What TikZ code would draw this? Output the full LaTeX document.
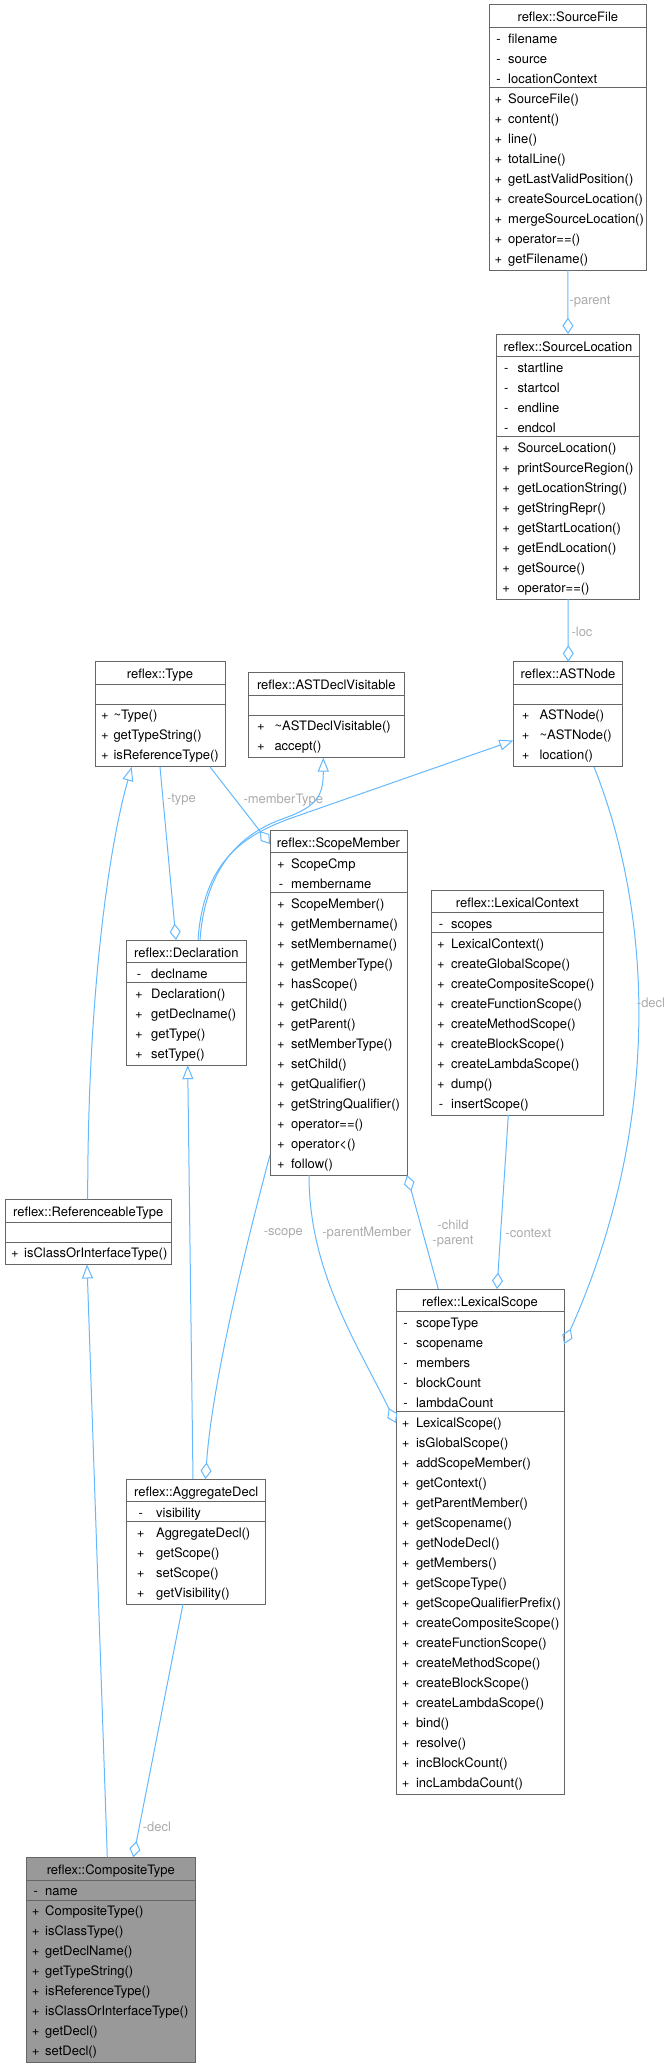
\documentclass[tikz,border=0pt]{standalone}
\usepackage{fontspec}
\setmainfont{TeX Gyre Heros}
\usetikzlibrary{arrows.meta,calc}
\definecolor{edgeblue}{HTML}{63B8FF}
\definecolor{boxgray}{HTML}{666666}
\definecolor{lblgray}{HTML}{ABABAB}
\definecolor{compfill}{HTML}{999999}
\tikzset{
  cbox/.style={draw=boxgray, line width=1pt, inner sep=0pt, outer sep=0pt, rectangle},
  cline/.style={draw=boxgray, line width=1pt},
  ctitle/.style={anchor=base, inner sep=0pt, font=\fontsize{13}{15}\selectfont},
  crow/.style={anchor=base west, inner sep=0pt, font=\fontsize{13}{15}\selectfont},
  csym/.style={anchor=base, inner sep=0pt, font=\fontsize{13}{15}\selectfont},
  lbl/.style={inner sep=0pt, text=lblgray, font=\fontsize{13}{15}\selectfont, align=center},
  conn/.style={draw=edgeblue, line width=1pt},
  inherit/.style={conn, -{Triangle[open, length=14pt, width=11pt]}},
  assoc/.style={conn, -{Diamond[open, length=16.5pt, width=11pt]}},
}
% #1 fill, #2 name, #3 top-left, #4 width, #5 symbol offset, #6 text offset, #7 title, #8 attributes, #9 methods
\newcommand{\uclass}[9][white]{%
  \foreach \usym/\utxt [count=\k] in {#8} {\xdef\una{\k}}%
  \foreach \usym/\utxt [count=\k] in {#9} {\xdef\unm{\k}}%
  \pgfmathsetmacro\uh{22.7+\una*20+\unm*20+2.5}%
  \node[cbox, fill=#1, minimum width=#4pt, minimum height=\uh pt, anchor=north west] (#2) at (#3) {};%
  \node[ctitle] (#2-title) at ([yshift=-17pt]#2.north) {#7};%
  \draw[cline] ([yshift=-22.7pt]#2.north west) -- ([yshift=-22.7pt]#2.north east);%
  \pgfmathsetmacro\usep{-(22.7+\una*20)}%
  \draw[cline] ([yshift=\usep pt]#2.north west) -- ([yshift=\usep pt]#2.north east);%
  \foreach \usym/\utxt [count=\k] in {#8} {%
    \pgfmathsetmacro\ury{-(22.7+(\k-0.5)*20+5.5)}%
    \node[csym] (#2-as\k) at ([xshift=#5pt, yshift=\ury pt]#2.north west) {\usym};%
    \node[crow] (#2-a\k) at ([xshift=#6pt, yshift=\ury pt]#2.north west) {\utxt};%
  }%
  \foreach \usym/\utxt [count=\k] in {#9} {%
    \pgfmathsetmacro\ury{-(22.7+\una*20+(\k-0.5)*20+5.5)}%
    \node[csym] (#2-ms\k) at ([xshift=#5pt, yshift=\ury pt]#2.north west) {\usym};%
    \node[crow] (#2-m\k) at ([xshift=#6pt, yshift=\ury pt]#2.north west) {\utxt};%
  }%
}
\begin{document}
\begin{tikzpicture}[x=1pt, y=-1pt]
\useasboundingbox (0,0) rectangle (669,2068);

\uclass{sf}{489,5}{157.7}{9.5}{19}{reflex::SourceFile}{-/filename,-/source,-/locationContext}{+/SourceFile(),+/content(),+/line(),+/totalLine(),+/getLastValidPosition(),+/createSourceLocation(),+/mergeSourceLocation(),+/operator==(),+/getFilename()}

\uclass{sl}{496.7,334}{142.6}{9.5}{20.6}{reflex::SourceLocation}{-/startline,-/startcol,-/endline,-/endcol}{+/SourceLocation(),+/printSourceRegion(),+/getLocationString(),+/getStringRepr(),+/getStartLocation(),+/getEndLocation(),+/getSource(),+/operator==()}

\uclass{type}{95,661.7}{130}{10}{18.3}{reflex::Type}{/}{+/\textasciitilde Type(),+/getTypeString(),+/isReferenceType()}

\uclass{astdv}{248.3,672.3}{156}{12.7}{26}{reflex::ASTDeclVisitable}{/}{+/\textasciitilde ASTDeclVisitable(),+/accept()}

\uclass{astn}{513.3,661.7}{109.4}{12.3}{26}{reflex::ASTNode}{/}{+/ASTNode(),+/\textasciitilde ASTNode(),+/location()}

\uclass{sm}{270,830}{137}{11}{21}{reflex::ScopeMember}{+/ScopeCmp,-/membername}{+/ScopeMember(),+/getMembername(),+/setMembername(),+/getMemberType(),+/hasScope(),+/getChild(),+/getParent(),+/setMemberType(),+/setChild(),+/getQualifier(),+/getStringQualifier(),+/operator==(),+/operator<(),+/follow()}

\uclass{decl}{126.7,940}{119.3}{12.3}{24.3}{reflex::Declaration}{-/declname}{+/Declaration(),+/getDeclname(),+/getType(),+/setType()}

\uclass{lc}{431.7,890}{171.3}{9.3}{19.3}{reflex::LexicalContext}{-/scopes}{+/LexicalContext(),+/createGlobalScope(),+/createCompositeScope(),+/createFunctionScope(),+/createMethodScope(),+/createBlockScope(),+/createLambdaScope(),+/dump(),-/insertScope()}

\uclass{rt}{5,1199.3}{166.5}{10}{19}{reflex::ReferenceableType}{/}{+/isClassOrInterfaceType()}

\uclass{ad}{126.7,1479}{139}{14}{29.3}{reflex::AggregateDecl}{-/visibility}{+/AggregateDecl(),+/getScope(),+/setScope(),+/getVisibility()}

\uclass{ls}{396,1289}{168}{9.6}{19.8}{reflex::LexicalScope}{-/scopeType,-/scopename,-/members,-/blockCount,-/lambdaCount}{+/LexicalScope(),+/isGlobalScope(),+/addScopeMember(),+/getContext(),+/getParentMember(),+/getScopename(),+/getNodeDecl(),+/getMembers(),+/getScopeType(),+/getScopeQualifierPrefix(),+/createCompositeScope(),+/createFunctionScope(),+/createMethodScope(),+/createBlockScope(),+/createLambdaScope(),+/bind(),+/resolve(),+/incBlockCount(),+/incLambdaCount()}

\uclass[compfill]{ct}{26.7,1857.3}{168.3}{9}{18.3}{reflex::CompositeType}{-/name}{+/CompositeType(),+/isClassType(),+/getDeclName(),+/getTypeString(),+/isReferenceType(),+/isClassOrInterfaceType(),+/getDecl(),+/setDecl()}

% connectors
\draw[assoc] ([xshift=78.8pt]sf.south west) -- ([xshift=71.3pt]sl.north west);
\node[lbl] (l-parent) at (590,302) {-parent};

\draw[assoc] ([xshift=71.3pt]sl.south west) -- ([xshift=55pt]astn.north west);
\node[lbl] (l-loc) at (582,632) {-loc};

\draw[inherit] ([xshift=82.7pt]rt.north west) .. controls +(-0.2,-199.3) and +(-23.7,83.1) .. ([xshift=36.7pt]type.south west);

\draw[assoc] ([xshift=65pt]type.south west) -- ([xshift=49.3pt]decl.north west);
\node[lbl] (l-type) at (181.5,800) {-type};

\draw[assoc] ([xshift=115pt]type.south west) -- ([yshift=-14pt]sm.north west);
\node[lbl] (l-memberType) at (283.3,800) {-memberType};

\draw[inherit] ([xshift=73.3pt]decl.north west) .. controls +(6,-82) and +(-35,12) .. ++(85,-122) .. controls +(33,-12) and +(0,37.5) .. ([xshift=75pt]astdv.south west);

\draw[inherit] ([xshift=71.3pt]decl.north west) .. controls +(6,-85) and +(-50,17) .. ++(102,-125) -- ([yshift=-78.8pt]astn.north west);

\draw[inherit] ([xshift=66.3pt]ad.north west) -- ([xshift=61pt]decl.south west);

\draw[inherit] ([xshift=80.6pt]ct.north west) -- ([xshift=82pt]rt.south west);

\draw[assoc] ([xshift=56.3pt]ad.south west) -- ([xshift=106.6pt]ct.north west);
\node[lbl] (l-decl2) at (157,1827) {-decl};

\draw[assoc] ([yshift=-325pt]sm.north west) .. controls +(-20,75) and +(6.5,-99) .. ([xshift=78.8pt]ad.north west);
\node[lbl] (l-scope) at (283.3,1233) {-scope};

\draw[assoc] ([xshift=39pt]sm.south west) .. controls +(0,95) and +(-41,-83) .. ([yshift=-134pt]ls.north west);
\node[lbl] (l-parentMember) at (366.7,1233) {-parentMember};

\draw[assoc] ([xshift=42.3pt]ls.north west) -- (sm.south east);
\node[lbl] (l-childparent) at (453,1233.5) {-child\\-parent};

\draw[assoc] ([xshift=76.6pt]lc.south west) -- ([xshift=101pt]ls.north west);
\node[lbl] (l-context) at (528.3,1233) {-context};

\draw[assoc] ([xshift=80.7pt]astn.south west) .. controls +(61,153) and +(96,-214) .. ([yshift=-55pt]ls.north east);
\node[lbl] (l-decl1) at (651,1003) {-decl};
\end{tikzpicture}
\end{document}
